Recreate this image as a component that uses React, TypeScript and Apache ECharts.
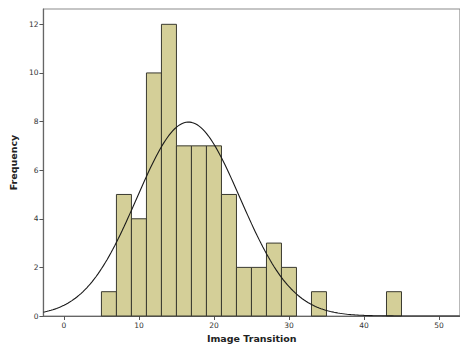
import React, { useEffect, useRef } from "react";
import * as echarts from "echarts";

const binStarts = [5, 7, 9, 11, 13, 15, 17, 19, 21, 23, 25, 27, 29, 33, 43];
const counts = [1, 5, 4, 10, 12, 7, 7, 7, 5, 2, 2, 3, 2, 1, 1];
const binWidth = 2;
const xTicks = [0, 10, 20, 30, 40, 50];
const yTicks = [0, 2, 4, 6, 8, 10, 12];
const fitMean = 16.6;
const fitSd = 6.9;

const X_MIN = -2.73;
const X_MAX = 52.8;
const Y_MAX = 12.63;

export default function App() {
  const ref = useRef<HTMLDivElement>(null);
  useEffect(() => {
    if (!ref.current) return;
    const chart = echarts.init(ref.current, null, { renderer: "svg" });
    const n = counts.reduce((a, b) => a + b, 0);
    const curve: number[][] = [];
    for (let x = X_MIN; x <= X_MAX + 1e-9; x += 0.25) {
      const z = (x - fitMean) / fitSd;
      curve.push([x, (n * binWidth) / (fitSd * Math.sqrt(2 * Math.PI)) * Math.exp(-0.5 * z * z)]);
    }
    const font = "DejaVu Sans";
    chart.setOption({
      animation: false,
      grid: {
        left: 41,
        right: -2,
        top: 9,
        bottom: 34,
        show: true,
        borderColor: "#8c8c8c",
        borderWidth: 1.2,
        backgroundColor: "#ffffff",
      },
      xAxis: {
        type: "value",
        min: X_MIN,
        max: X_MAX,
        name: "Image Transition",
        nameLocation: "middle",
        nameGap: 16,
        nameTextStyle: { fontFamily: font, fontWeight: "bold", fontSize: 9.5, color: "#222" },
        axisLine: { show: true, onZero: false, lineStyle: { color: "#666", width: 1.2 } },
        axisTick: { show: true, length: 4, customValues: xTicks, lineStyle: { color: "#555" } },
        axisLabel: { customValues: xTicks, fontFamily: font, fontSize: 7.5, color: "#333", margin: 5 },
        splitLine: { show: false },
      },
      yAxis: {
        type: "value",
        min: 0,
        max: Y_MAX,
        name: "Frequency",
        nameLocation: "middle",
        nameGap: 24,
        nameTextStyle: { fontFamily: font, fontWeight: "bold", fontSize: 9.5, color: "#222" },
        axisLine: { show: true, onZero: false, lineStyle: { color: "#666", width: 1.2 } },
        axisTick: { show: true, length: 4, customValues: yTicks, lineStyle: { color: "#555" } },
        axisLabel: { customValues: yTicks, fontFamily: font, fontSize: 7.5, color: "#333", margin: 5 },
        splitLine: { show: false },
      },
      series: [
        {
          type: "custom",
          data: binStarts.map((s, i) => [s, s + binWidth, counts[i]]),
          encode: { x: [0, 1], y: 2 },
          renderItem: (params: any, api: any) => {
            const p0 = api.coord([api.value(0), api.value(2)]);
            const p1 = api.coord([api.value(1), 0]);
            return {
              type: "rect",
              shape: { x: p0[0], y: p0[1], width: p1[0] - p0[0], height: p1[1] - p0[1] },
              style: { fill: "#d4cf98", stroke: "#3a3a30", lineWidth: 1 },
            };
          },
          z: 2,
        },
        {
          type: "line",
          data: curve,
          showSymbol: false,
          symbol: "none",
          lineStyle: { color: "#1a1a1a", width: 1.1 },
          z: 3,
        },
      ],
    });
    return () => chart.dispose();
  }, []);
  return (
    <div
      ref={ref}
      style={{ position: "fixed", left: 0, top: 0, width: 460, height: 350, background: "#fff" }}
    />
  );
}
